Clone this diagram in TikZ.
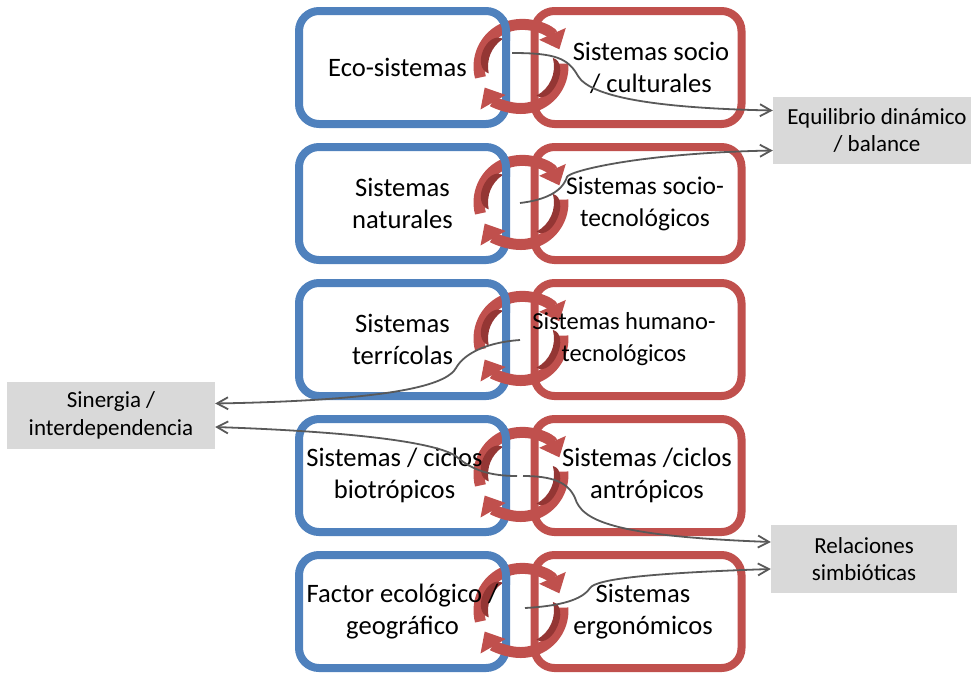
\documentclass[tikz,border=0pt]{standalone}
\usepackage{fontspec}
\setmainfont{Carlito}
\usetikzlibrary{arrows.meta}

\definecolor{boxblue}{HTML}{4F81BD}
\definecolor{boxred}{HTML}{C0504D}
\definecolor{ringdark}{HTML}{943634}
\definecolor{calloutgray}{HTML}{D9D9D9}
\definecolor{linkgray}{HTML}{595959}

\begin{document}
\begin{tikzpicture}[x=1pt,y=-1pt,
  sysbox/.style={draw, line width=8pt, rounded corners=20pt, outer sep=0pt,
    minimum width=207pt, minimum height=113pt, inner sep=0pt},
  natural/.style={sysbox, draw=boxblue},
  human/.style={sysbox, draw=boxred},
  boxtext/.style={inner sep=0pt, align=center, font=\fontsize{26.6}{32}\selectfont},
  smalltext/.style={boxtext, font=\fontsize{#1}{32}\selectfont},
  callout/.style={fill=calloutgray, minimum height=67pt, inner sep=0pt,
    align=center, font=\fontsize{23}{27.5}\selectfont},
  link/.style={draw=linkgray, line width=1.8pt,
    -{Straight Barb[length=11pt,width=12pt]}},
  band/.style={draw=boxred, line width=11pt,
    -{Triangle[width=28pt,length=17pt]}},
  blueedge/.style={draw=boxblue, line width=8pt, rounded corners=20pt},
  ring/.pic={
    % two clockwise arrows closing a loop
    \draw[band] (165:42) arc[start angle=165, end angle=336, radius=42];
    \draw[band] (-4:42) arc[start angle=-4, end angle=150, radius=42];
    % shaded inner wall of the loop
    \fill[ringdark] (168:33) arc[start angle=168, end angle=237, radius=33]
      .. controls (226:50) and (179:50) .. (168:33) -- cycle;
    \fill[ringdark] (-15:33) arc[start angle=-15, end angle=62, radius=33]
      .. controls (51:50) and (-4:50) .. (-15:33) -- cycle;
  }
]
\useasboundingbox (0,0) rectangle (971,675);

% natural systems (left column)
\node[natural] (b1) at (402.5,67.5)  {};
\node[natural] (b2) at (402.5,203.5) {};
\node[natural] (b3) at (402.5,339.5) {};
\node[natural] (b4) at (402.5,475.5) {};
\node[natural] (b5) at (402.5,611.5) {};

% human systems (right column)
\node[human] (h1) at (638,67.5)  {};
\node[human] (h2) at (638,203.5) {};
\node[human] (h3) at (638,339.5) {};
\node[human] (h4) at (638,475.5) {};
\node[human] (h5) at (638,611.5) {};

% loops linking each pair
\pic (r1) at (521,66.5)  {ring};
\pic (r2) at (521,202.5) {ring};
\pic (r3) at (521,338.5) {ring};
\pic (r4) at (521,474.5) {ring};
\pic (r5) at (521,610.5) {ring};

% blue edge passes over the top of each loop
\foreach \b/\c in {b1/67.5,b2/203.5,b3/339.5,b4/475.5,b5/611.5}{
  \begin{scope}
    \clip (497,\c-50) rectangle (513,\c-27);
    \draw[blueedge] ([xshift=-40pt]\b.north east) -- (\b.north east)
      -- ([yshift=-60pt]\b.north east);
  \end{scope}
}

% box labels, set above the loops
\node[boxtext] (tb1) at ([xshift=-5pt]b1.center) {Eco-sistemas};
\node[boxtext] (tb2) at (b2) {Sistemas\\naturales};
\node[boxtext] (tb3) at (b3) {Sistemas\\terrícolas};
\node[boxtext] (tb4) at ([xshift=-8pt]b4.center) {Sistemas / ciclos\\biotrópicos};
\node[boxtext] (tb5) at (b5) {Factor ecológico /\\geográfico};
\node[boxtext] (th1) at ([xshift=13pt]h1.center) {Sistemas socio\\/ culturales};
\node[smalltext=25.5] (th2) at ([xshift=7pt]h2.center) {Sistemas socio-\\tecnológicos};
\node[smalltext=24.5] (th3) at ([xshift=-14pt]h3.center) {Sistemas humano-\\tecnológicos};
\node[boxtext] (th4) at ([xshift=9pt]h4.center) {Sistemas /ciclos\\antrópicos};
\node[boxtext] (th5) at ([xshift=5pt]h5.center) {Sistemas\\ergonómicos};

% callouts
\node[callout, minimum width=208pt] (eq)  at (877,130.5) {Equilibrio dinámico\\/ balance};
\node[callout, minimum width=208pt] (sin) at (111,415.5) {Sinergia /\\interdependencia};
\node[callout, minimum width=186pt, minimum height=68pt] (rel) at (864,559) {Relaciones\\simbióticas};

% connector origins inside the loops
\coordinate (s1)  at (512,53);
\coordinate (s2)  at (520,203);
\coordinate (s3)  at (520,340);
\coordinate (s4a) at (517,476);
\coordinate (s4b) at (523,476);
\coordinate (s5)  at (525,608);

\draw[link] (s1) .. controls (555,53) and (568,58) .. (578,76)
  .. controls (590,96) and (650,108) .. ([yshift=20pt]eq.west);
\draw[link] (s2) .. controls (545,200) and (562,192) .. (567,177)
  .. controls (569,171) and (640,153) .. ([yshift=-20pt]eq.west);
\draw[link] (s3) .. controls (490,342) and (465,352) .. (456,368)
  .. controls (448,382) and (410,400) .. ([yshift=12pt]sin.east);
\draw[link] (s4a) .. controls (490,476) and (472,470) .. (457,457)
  .. controls (445,447) and (390,433) .. ([yshift=-11.5pt]sin.east);
\draw[link] (s4b) .. controls (552,476) and (568,482) .. (575,498)
  .. controls (582,520) and (610,536) .. ([yshift=17pt]rel.west);
\draw[link] (s5) .. controls (560,606) and (582,600) .. (590,588)
  .. controls (596,579) and (650,573) .. ([yshift=-10pt]rel.west);
\end{tikzpicture}
\end{document}
